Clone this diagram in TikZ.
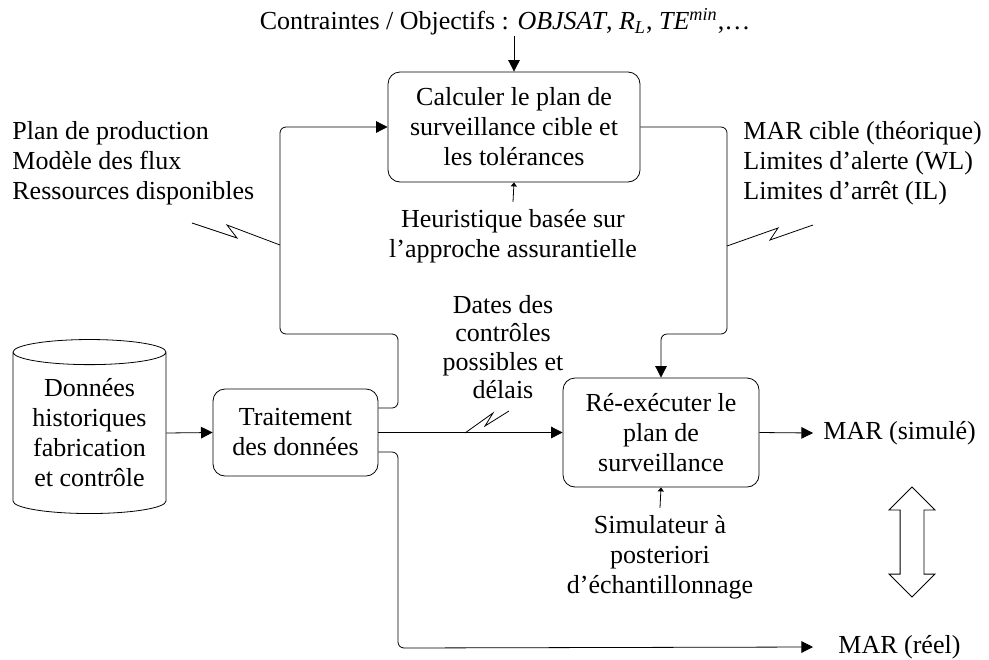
\documentclass[tikz,border=0pt]{standalone}
\usepackage{fontspec}
\setmainfont{Liberation Serif}
\usetikzlibrary{arrows.meta,shapes.geometric,shapes.arrows}
\tikzset{
  bloc/.style={draw,rounded corners=6pt,align=center,inner sep=0pt},
  txt/.style={align=center,inner sep=0pt},
  fl/.style={-{Triangle[length=5.8pt,width=5.8pt]},rounded corners=3pt},
  meca/.style={-{Triangle[length=2pt,width=3pt]}},
}
\begin{document}
\begin{tikzpicture}[x=0.5pt,y=-0.5pt,font=\fontsize{13}{15}\selectfont]
\useasboundingbox (0,0) rectangle (989,659);
% activites
\node[bloc,minimum width=126pt,minimum height=55pt] (calc) at (514,127) {Calculer le plan de\\surveillance cible et\\les tolérances};
\node[bloc,minimum width=82.5pt,minimum height=43.5pt] (trait) at (295.5,432.5) {Traitement\\des données};
\node[bloc,minimum width=98pt,minimum height=54.5pt] (reexec) at (661,432.5) {Ré-exécuter le\\plan de\\surveillance};
\node[draw,cylinder,shape border rotate=90,aspect=0.22,minimum height=87pt,minimum width=76.5pt,align=center,inner sep=0pt] (db) at (89.5,433) {Données\\historiques\\fabrication\\et contrôle};
% textes
\node[txt] (obj) at (505,22) {Contraintes / Objectifs : \textit{OBJSAT}, \textit{R}\textsubscript{\textit{L}}, \textit{TE}\textsuperscript{\textit{min}},…};
\node[txt,inner ysep=3.5pt] (heur) at (513,236) {Heuristique basée sur\\l’approche assurantielle};
\node[txt,inner ysep=3.5pt] (simul) at (660,557) {Simulateur à\\posteriori\\d’échantillonnage};
\node[txt,align=left,anchor=west] (plan) at (12,163) {Plan de production\\Modèle des flux\\Ressources disponibles};
\node[txt,align=left,anchor=west] (cible) at (743,163) {MAR cible (théorique)\\Limites d’alerte (WL)\\Limites d’arrêt (IL)};
\node[txt,font=\fontsize{13}{14.3}\selectfont] (dates) at (503,347) {Dates des\\contrôles\\possibles et\\délais};
\node[txt,anchor=west,inner xsep=5pt] (simu) at (813,433) {MAR (simulé)};
\node[txt,anchor=west,inner xsep=12.5pt] (reel) at (813,647) {MAR (réel)};
\node[draw,double arrow,shape border rotate=90,minimum height=55pt,minimum width=22.5pt,double arrow head extend=5.5pt,inner sep=5.75pt] (cmp) at (912,542) {};
% fleches
\draw[fl] (obj.south -| calc.north) -- (calc.north);
\draw[meca] (heur.north) -- (calc.south);
\draw[meca] (simul.north) -- (reexec.south);
\draw[fl] (db.east) -- (trait.west);
\draw[fl] (trait.east) -- (reexec.west);
\draw[fl] (reexec.east) -- (simu.west);
\draw[fl] ([yshift=12.25pt]trait.east) -| (398,334) -- (280,334) |- (calc.west);
\draw[fl] (calc.east) -| (727,334) -| (reexec.north);
\draw[fl] ([yshift=-9.75pt]trait.east) -| (398,648) -- (reel.west);
% eclairs
\draw (192,223) -- (237,238) -- (227,225) -- (280,245);
\draw (727,246) -- (778,228) -- (770,240) -- (813,225);
\draw (465,433) -- (493,413) -- (485,426) -- (509,411);
\end{tikzpicture}
\end{document}
